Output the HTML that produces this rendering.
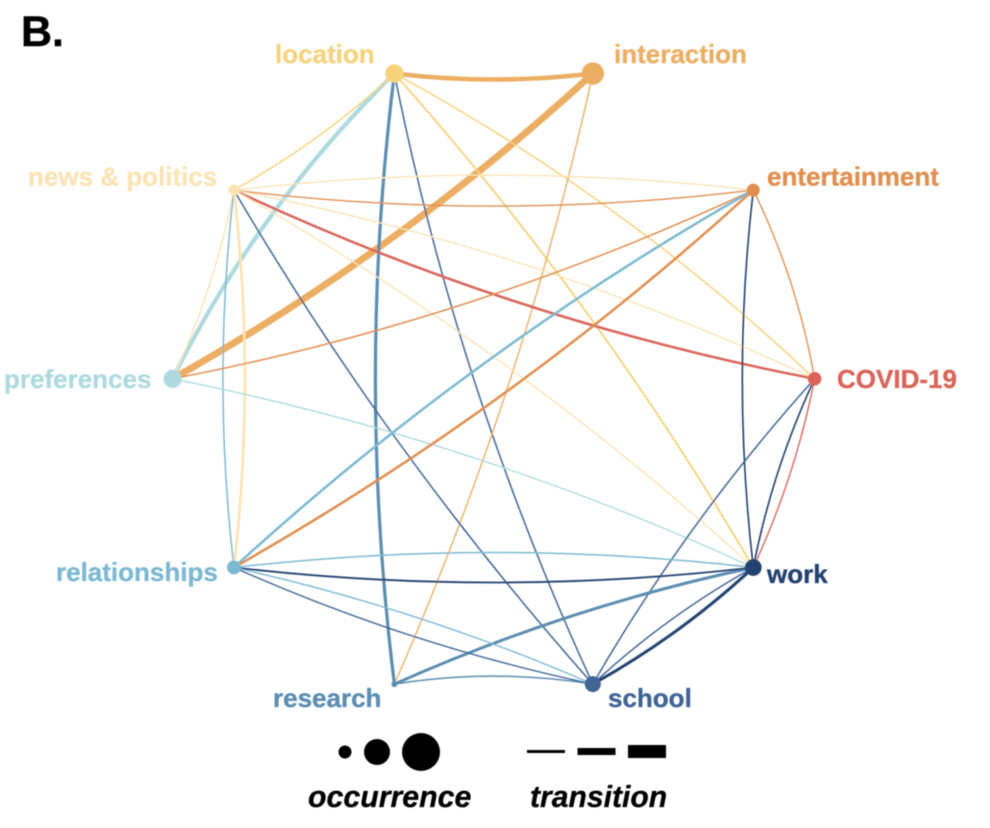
<!DOCTYPE html>
<html lang="en">
<head>
<meta charset="utf-8">
<title>Topic transition network</title>
<style>
html,body{margin:0;padding:0;background:#fff;}
body{width:990px;height:828px;overflow:hidden;}
svg{display:block;}
text{font-family:"Liberation Sans",Arial,sans-serif;font-weight:bold;}
.lbl{font-size:26px;stroke-width:0.35px;}
</style>
</head>
<body>
<svg id="chart" xmlns="http://www.w3.org/2000/svg" width="990" height="828" viewBox="0 0 990 828">
  <defs>
    <filter id="soft" x="-5%" y="-5%" width="110%" height="110%"><feGaussianBlur stdDeviation="0.45"/></filter>
  </defs>
  <rect width="990" height="828" fill="#ffffff"/>
  <g id="art" filter="url(#soft)">
    <text x="21" y="46" font-size="43" fill="#000" stroke="#000" stroke-width="0.4">B.</text>
    <g id="edges" fill="none" stroke-linecap="butt"></g>
    <g id="nodes"></g>
    <text class="lbl" x="275" y="63" fill="#F6D27C" stroke="#F6D27C">location</text>
    <text class="lbl" x="614" y="63" fill="#EBAE63" stroke="#EBAE63">interaction</text>
    <text class="lbl" x="28" y="185.5" fill="#FBE3B4" stroke="#FBE3B4">news &amp; politics</text>
    <text class="lbl" x="767" y="185.5" fill="#E08F50" stroke="#E08F50">entertainment</text>
    <text class="lbl" x="4" y="388" fill="#AEDADF" stroke="#AEDADF">preferences</text>
    <text class="lbl" x="837" y="388" fill="#D9655A" stroke="#D9655A">COVID-19</text>
    <text class="lbl" x="56" y="581" fill="#7DB9D2" stroke="#7DB9D2">relationships</text>
    <text class="lbl" x="767" y="583" fill="#23426F" stroke="#23426F">work</text>
    <text class="lbl" x="273" y="707" fill="#5B8DB0" stroke="#5B8DB0">research</text>
    <text class="lbl" x="608" y="707" fill="#3F6594" stroke="#3F6594">school</text>
    <g id="legend-sizes"></g>
    <g id="legend-widths"></g>
    <text x="308" y="807" font-size="30.3" font-style="italic" fill="#000" stroke="#000" stroke-width="0.3">occurrence</text>
    <text x="530" y="807" font-size="30.1" font-style="italic" fill="#000" stroke="#000" stroke-width="0.3">transition</text>
  </g>
</svg>
<script>
// Topics, clockwise from the upper-left of the ring
const topics = ['location','interaction','entertainment','COVID-19','work','school','research','relationships','preferences','news & politics'];
const topicColors = ['#F6D27C','#EBAE63','#E08F50','#D9655A','#23426F','#3F6594','#5B8DB0','#7DB9D2','#AEDADF','#FBE3B4'];
const occurrence = [84,125,42,46,70,64,9,48,82,30];

// Transitions, one per index across these arrays
const edgeSource = ['location','preferences','preferences','news & politics','location','location','location','location','interaction','news & politics','news & politics','news & politics','news & politics','news & politics','news & politics','news & politics','news & politics','news & politics','preferences','preferences','relationships','relationships','entertainment','entertainment','COVID-19','COVID-19','COVID-19','school','school','research','relationships','relationships','relationships','relationships','research'];
const edgeTarget = ['interaction','interaction','location','location','research','school','work','COVID-19','research','entertainment','entertainment','COVID-19','COVID-19','work','school','preferences','relationships','relationships','entertainment','work','entertainment','entertainment','work','COVID-19','work','work','school','work','work','work','work','work','school','school','school'];
const edgeColorTopic = ['interaction','interaction','preferences','location','research','school','location','location','interaction','news & politics','entertainment','COVID-19','news & politics','news & politics','school','news & politics','relationships','news & politics','entertainment','preferences','relationships','entertainment','work','entertainment','COVID-19','work','school','work','school','research','relationships','work','relationships','school','research'];
const edgeWeight = [4,6,3.7,1.3,2.8,1.3,1.6,1.3,1.2,1.2,1.2,2.2,1.2,1.2,1.3,1.2,1.3,2.3,1.3,1.2,2.2,2.2,1.4,1.2,1.2,1.4,1.3,2.6,1.3,2.6,1.3,1.6,1.2,1.2,1.3];
const edgeBow = [6,15,-16,6,19,19,-15,-17,-16,-15,16,19,-19,-18,15,-6,11,-11,19,-18,-18,18,11,-7,-6,6,10,6,-6,-10,-15,15,-9,10,-8];

// Legend scales
const legendOccurrence = [42,169,361];
const legendTransition = [2.6,6.1,11.3];

const SVG_NS = 'http://www.w3.org/2000/svg';
const ringCx = 493.6, ringCy = 378.8, ringR = 321;

function angleOf(i){ return (-108 + i * 36) * Math.PI / 180; }
function nodeX(i){ return ringCx + ringR * Math.cos(angleOf(i)); }
function nodeY(i){ return ringCy + ringR * Math.sin(angleOf(i)); }
function radiusScale(v){ return Math.sqrt(v); }
function widthScale(w){ return w * 1.15; }

function edgePath(a, b, bow){
  const x1 = nodeX(a), y1 = nodeY(a), x2 = nodeX(b), y2 = nodeY(b);
  const dx = x2 - x1, dy = y2 - y1, len = Math.hypot(dx, dy);
  const cx = (x1 + x2) / 2 + (-dy / len) * bow * 2;
  const cy = (y1 + y2) / 2 + (dx / len) * bow * 2;
  return 'M' + x1.toFixed(1) + ' ' + y1.toFixed(1) + 'Q' + cx.toFixed(1) + ' ' + cy.toFixed(1) + ' ' + x2.toFixed(1) + ' ' + y2.toFixed(1);
}

const edgeLayer = document.getElementById('edges');
edgeSource.forEach(function(src, i){
  const a = topics.indexOf(src), b = topics.indexOf(edgeTarget[i]);
  const el = document.createElementNS(SVG_NS, 'path');
  el.setAttribute('d', edgePath(a, b, edgeBow[i]));
  el.setAttribute('stroke', topicColors[topics.indexOf(edgeColorTopic[i])]);
  el.setAttribute('stroke-width', widthScale(edgeWeight[i]));
  
  
  edgeLayer.appendChild(el);
});

const nodeLayer = document.getElementById('nodes');
topics.forEach(function(t, i){
  const el = document.createElementNS(SVG_NS, 'circle');
  el.setAttribute('cx', nodeX(i));
  el.setAttribute('cy', nodeY(i));
  el.setAttribute('r', radiusScale(occurrence[i]));
  el.setAttribute('fill', topicColors[i]);
  
  
  nodeLayer.appendChild(el);
});

const sizeLayer = document.getElementById('legend-sizes');
const legendCircleX = [345,377,421];
legendOccurrence.forEach(function(v, i){
  const el = document.createElementNS(SVG_NS, 'circle');
  el.setAttribute('cx', legendCircleX[i]);
  el.setAttribute('cy', 752);
  el.setAttribute('r', radiusScale(v));
  el.setAttribute('fill', '#000');
  
  
  sizeLayer.appendChild(el);
});

const widthLayer = document.getElementById('legend-widths');
legendTransition.forEach(function(w, i){
  const el = document.createElementNS(SVG_NS, 'line');
  const x0 = 527 + i * 50.5;
  el.setAttribute('x1', x0);
  el.setAttribute('x2', x0 + 38);
  el.setAttribute('y1', 751.5);
  el.setAttribute('y2', 751.5);
  el.setAttribute('stroke', '#000');
  el.setAttribute('stroke-width', widthScale(w));
  
  
  widthLayer.appendChild(el);
});
</script>
</body>
</html>
